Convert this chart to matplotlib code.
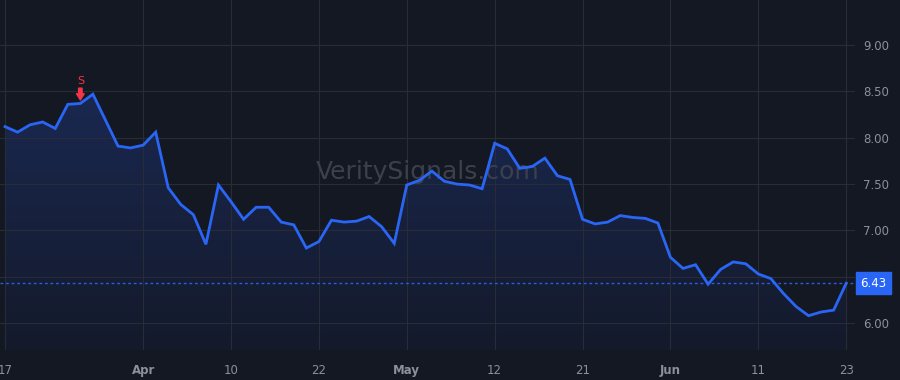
import numpy as np
import matplotlib
matplotlib.use("Agg")
from matplotlib import pyplot as plt
from matplotlib.patches import Polygon
from matplotlib.colors import LinearSegmentedColormap

# daily closes, trading days 17 Mar -> 23 Jun
prices = [8.12, 8.06, 8.14, 8.17, 8.10, 8.36, 8.37, 8.47, 8.19, 7.91,
          7.89, 7.92, 8.06, 7.46, 7.28, 7.17, 6.85, 7.49, 7.31, 7.12,
          7.25, 7.25, 7.09, 7.06, 6.81, 6.88, 7.11, 7.09, 7.10, 7.15,
          7.04, 6.86, 7.49, 7.54, 7.64, 7.53, 7.50, 7.49, 7.45, 7.94,
          7.88, 7.67, 7.69, 7.78, 7.59, 7.55, 7.12, 7.07, 7.09, 7.16,
          7.14, 7.13, 7.08, 6.71, 6.59, 6.63, 6.42, 6.58, 6.66, 6.64,
          6.53, 6.48, 6.32, 6.18, 6.08, 6.12, 6.14, 6.43]
tick_pos = [0, 11, 18, 25, 32, 39, 46, 53, 60, 67]
tick_labels = ["17", "Apr", "10", "22", "May", "12", "21", "Jun", "11", "23"]
month_labels = {"Apr", "May", "Jun"}
y_ticks = [6.0, 6.5, 7.0, 7.5, 8.0, 8.5, 9.0]
signal_idx = 6
last_price = prices[-1]

bg = "#141823"
grid = "#272c37"
blue = "#2a66f5"
red = "#f23645"
txt = "#8b909a"

x = np.arange(len(prices))
y = np.array(prices)

fig = plt.figure(figsize=(9, 3.8), dpi=100, facecolor=bg)
ax = fig.add_axes([0, 30 / 380, 855 / 900, 350 / 380], facecolor=bg)
ymin, ymax = 5.71, 9.486
ax.set_xlim(-0.4, 67.7)
ax.set_ylim(ymin, ymax)

# gradient fill under the line
grad = np.linspace(1, 0, 256).reshape(-1, 1)
cmap = LinearSegmentedColormap.from_list("g", ["#141a2b", "#1a2850"])
im = ax.imshow(grad, aspect="auto", cmap=cmap, origin="upper",
               extent=[x[0], x[-1], ymin, y.max()], zorder=1)
poly = Polygon(np.column_stack([np.r_[x[0], x, x[-1]], np.r_[ymin, y, ymin]]),
               closed=True, facecolor="none", edgecolor="none")
ax.add_patch(poly)
im.set_clip_path(poly)

ax.plot(x, y, color=blue, lw=2, zorder=3, solid_joinstyle="miter")
ax.axhline(last_price, color=blue, lw=1, ls=(0, (2, 2)), alpha=0.9, zorder=2)

ax.set_xticks(tick_pos)
ax.set_xticklabels(tick_labels)
for lab in ax.get_xticklabels():
    if lab.get_text() in month_labels:
        lab.set_fontweight("bold")
ax.set_yticks(y_ticks)
ax.set_yticklabels([f"{v:.2f}" for v in y_ticks])
ax.yaxis.tick_right()
ax.tick_params(axis="both", length=0, colors=txt, labelsize=8.5)
ax.tick_params(axis="y", pad=6)
ax.tick_params(axis="x", pad=10)
ax.grid(True, color=grid, lw=0.8, zorder=0)
for s in ax.spines.values():
    s.set_visible(False)

# watermark
ax.text(0.5, 0.51, "VeritySignals.com", transform=ax.transAxes, ha="center",
        va="center", fontsize=18, color="#3b404b", zorder=2)

# signal marker
ax.annotate("", xy=(signal_idx, prices[signal_idx]), xytext=(0, 11),
            textcoords="offset points", xycoords="data",
            arrowprops=dict(arrowstyle="simple,head_width=0.55,head_length=0.45,tail_width=0.25",
                            color=red, shrinkA=0, shrinkB=2.5), zorder=5)
ax.annotate("S", xy=(signal_idx, prices[signal_idx]), xytext=(0, 16.5),
            textcoords="offset points", ha="center", va="center",
            color=red, fontsize=8, zorder=5)

# price tag
ax.annotate(f"{last_price:.2f}", xy=(1.0, last_price),
            xycoords=("axes fraction", "data"), xytext=(4, 0),
            textcoords="offset points", ha="left", va="center", color="white",
            fontsize=8.5, annotation_clip=False,
            bbox=dict(boxstyle="square,pad=0.4", fc=blue, ec=blue))

fig.savefig("out.png", dpi=100, facecolor=bg)
